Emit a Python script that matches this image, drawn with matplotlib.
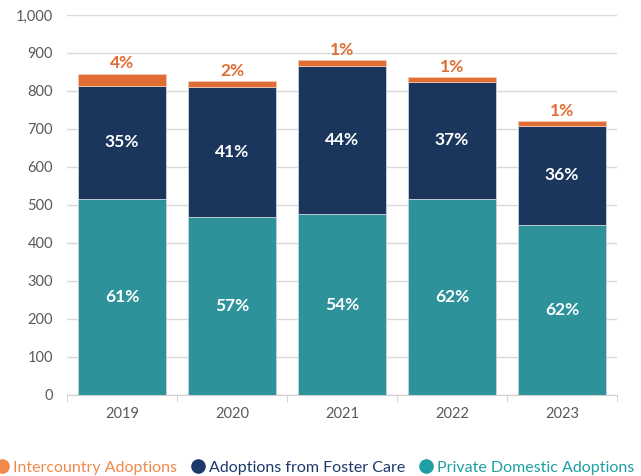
import matplotlib.pyplot as plt
from matplotlib.lines import Line2D
import numpy as np

plt.rcParams['font.family'] = ['Lato', 'DejaVu Sans']

years = ['2019', '2020', '2021', '2022', '2023']
private_domestic = [516, 468, 476, 516, 447]
foster_care = [298, 342, 390, 308, 262]
intercountry = [32, 16, 16, 12, 12]

private_labels = ['61%', '57%', '54%', '62%', '62%']
foster_labels = ['35%', '41%', '44%', '37%', '36%']
inter_labels = ['4%', '2%', '1%', '1%', '1%']

c_orange = '#DF6D34'
c_navy = '#1B365D'
c_teal = '#2D9299'

fig = plt.figure(figsize=(6.41, 4.76), dpi=100)
ax = fig.add_axes([0.1045, 0.1702, 0.858, 0.7983])

x = np.arange(len(years))
priv = np.array(private_domestic)
fost = np.array(foster_care)
inter = np.array(intercountry)

ax.bar(x, priv, 0.8, color=c_teal, edgecolor='#c8d4dc', linewidth=0.6, zorder=3)
ax.bar(x, fost, 0.8, bottom=priv, color=c_navy, edgecolor='#c8d4dc', linewidth=0.6, zorder=3)
ax.bar(x, inter, 0.8, bottom=priv + fost, color=c_orange, edgecolor='#f0c8b0', linewidth=0.6, zorder=3)

for i in range(len(years)):
    ax.text(x[i], priv[i] / 2, private_labels[i], ha='center', va='center',
            color='white', fontsize=12.5, fontweight='bold', zorder=4)
    ax.text(x[i], priv[i] + fost[i] / 2, foster_labels[i], ha='center', va='center',
            color='white', fontsize=12.5, fontweight='bold', zorder=4)
    ax.text(x[i], priv[i] + fost[i] + inter[i] + 6, inter_labels[i], ha='center', va='bottom',
            color=c_orange, fontsize=12.5, fontweight='bold', zorder=4)

ax.set_xlim(-0.5, len(years) - 0.5)
ax.set_ylim(0, 1000)
ax.set_yticks(range(0, 1001, 100))
ax.set_yticklabels(['{:,}'.format(v) for v in range(0, 1001, 100)])
ax.set_xticks(x)
ax.set_xticklabels(years)
ax.set_xticks(np.arange(-0.5, len(years)), minor=True)
ax.tick_params(axis='x', which='major', length=0, pad=9, labelsize=10.5, labelcolor='#595959')
ax.tick_params(axis='x', which='minor', length=5, color='#d0d0d0')
ax.tick_params(axis='y', length=0, pad=10, labelsize=10.5, labelcolor='#595959')
ax.grid(axis='y', color='#d9d9d9', linewidth=1, zorder=0)
for s in ['left', 'right', 'top']:
    ax.spines[s].set_visible(False)
ax.spines['bottom'].set_color('#d0d0d0')

handles = [
    Line2D([], [], marker='o', linestyle='', markersize=9.5, color='#F08A4B'),
    Line2D([], [], marker='o', linestyle='', markersize=9.5, color='#1B3A6B'),
    Line2D([], [], marker='o', linestyle='', markersize=9.5, color='#1F9FA3'),
]
leg = fig.legend(handles, ['Intercountry Adoptions', 'Adoptions from Foster Care', 'Private Domestic Adoptions'],
                 loc='center', bbox_to_anchor=(0.49, 0.018), ncol=3, frameon=False,
                 fontsize=11.5, handletextpad=0.2, columnspacing=0.8, handlelength=1)
for t, c in zip(leg.get_texts(), ['#F08A4B', '#1B3A6B', '#1F9FA3']):
    t.set_color(c)

fig.savefig('out.png', dpi=100)
